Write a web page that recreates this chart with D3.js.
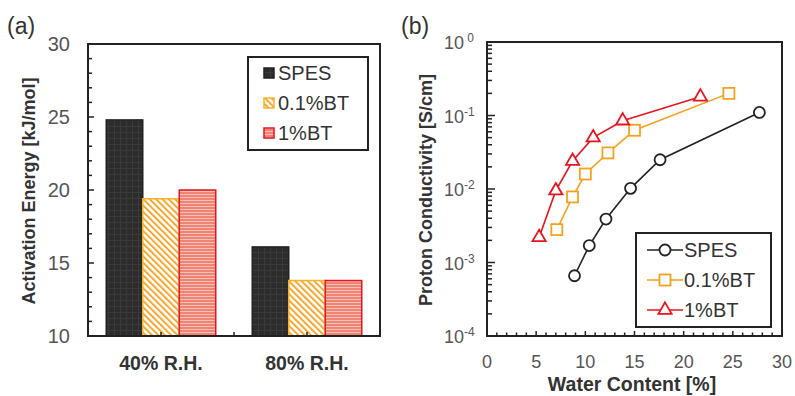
<!DOCTYPE html>
<html>
<head>
<meta charset="utf-8">
<script src="https://cdn.jsdelivr.net/npm/d3@7"></script>
<style>
  body { margin: 0; background: #fff; }
  svg { display: block; font-family: "Liberation Sans", Arial, sans-serif; }
</style>
</head>
<body>
<svg id="chart" width="795" height="396"></svg>
<script>
// panel (a) data
const groups = ['40% R.H.', '80% R.H.'];
const seriesNames = ['SPES', '0.1%BT', '1%BT'];
const energySPES = [24.8, 16.1];
const energyBT01 = [19.4, 13.8];
const energyBT1 = [20.0, 13.8];
const energyTicks = [10, 15, 20, 25, 30];

// panel (b) data
const waterSPES = [8.9, 10.4, 12.1, 14.6, 17.6, 27.7];
const condSPES = [6.6e-4, 1.7e-3, 3.9e-3, 1.02e-2, 2.5e-2, 0.11];
const waterBT01 = [7.1, 8.7, 10.0, 12.3, 15.0, 24.6];
const condBT01 = [2.8e-3, 7.8e-3, 1.6e-2, 3.1e-2, 6.3e-2, 0.2];
const waterBT1 = [5.3, 7.0, 8.7, 10.8, 13.8, 21.7];
const condBT1 = [2.2e-3, 9.5e-3, 2.4e-2, 5.0e-2, 8.5e-2, 0.18];
const waterTicks = [0, 5, 10, 15, 20, 25, 30];
const condTicks = [-4, -3, -2, -1, 0];

const dark = '#222';
const orange = '#f5a21e';
const red = '#e8141e';

const svg = d3.select('#chart');
const defs = svg.append('defs');

// bar fill patterns
const pSpes = defs.append('pattern').attr('id', 'pSpes')
    .attr('patternUnits', 'userSpaceOnUse').attr('width', 6).attr('height', 6);
pSpes.append('rect').attr('width', 6).attr('height', 6).attr('fill', '#2c2c2c');
pSpes.append('path').attr('d', 'M0,0.5H6M0.5,0V6').attr('stroke', '#3a3a3a').attr('stroke-width', 1);

const pBt01 = defs.append('pattern').attr('id', 'pBt01')
    .attr('patternUnits', 'userSpaceOnUse').attr('width', 4.5).attr('height', 4.5)
    .attr('patternTransform', 'rotate(-45)');
pBt01.append('rect').attr('width', 4.5).attr('height', 4.5).attr('fill', '#fff');
pBt01.append('rect').attr('width', 2).attr('height', 4.5).attr('fill', '#f5a830');

const pBt1 = defs.append('pattern').attr('id', 'pBt1')
    .attr('patternUnits', 'userSpaceOnUse').attr('width', 4).attr('height', 3);
pBt1.append('rect').attr('width', 4).attr('height', 3).attr('fill', '#ef8474');
pBt1.append('rect').attr('y', 2).attr('width', 4).attr('height', 1).attr('fill', '#f8c0b6');

const barStyles = [
    { fill: 'url(#pSpes)', stroke: dark, values: energySPES },
    { fill: 'url(#pBt01)', stroke: '#f6b428', values: energyBT01 },
    { fill: 'url(#pBt1)', stroke: red, values: energyBT1 }
];

// ---------- panel (a) ----------
const a = { left: 88, top: 44, right: 380, bottom: 336 };
const xGroup = d3.scaleBand().domain(groups).range([a.left, a.right]);
const xInner = d3.scaleBand().domain(seriesNames).range([0, xGroup.bandwidth()]).paddingOuter(0.5);
const yE = d3.scaleLinear().domain([10, 30]).range([a.bottom, a.top]);

const gA = svg.append('g');

groups.forEach((grp, gi) => {
    seriesNames.forEach((s, si) => {
        const v = barStyles[si].values[gi];
        gA.append('rect')
            .attr('x', xGroup(grp) + xInner(s))
            .attr('y', yE(v))
            .attr('width', xInner.bandwidth())
            .attr('height', yE(10) - yE(v))
            .attr('fill', barStyles[si].fill)
            .attr('stroke', barStyles[si].stroke)
            .attr('stroke-width', 1.5);
    });
});

// y axis ticks (inward)
gA.append('g')
    .selectAll('line')
    .data(d3.range(10, 31, 1))
    .join('line')
    .attr('x1', a.left).attr('x2', (d) => a.left + (d % 5 === 0 ? 6 : 4))
    .attr('y1', (d) => yE(d)).attr('y2', (d) => yE(d))
    .attr('stroke', dark).attr('stroke-width', 1.5);

gA.append('g')
    .selectAll('text')
    .data(energyTicks)
    .join('text')
    .attr('x', 70).attr('y', (d) => yE(d) + 7)
    .attr('text-anchor', 'end')
    .attr('font-size', 20).attr('fill', '#555')
    .text((d) => d);

// x axis small ticks at group centres and boundary
const xTickPos = groups.map((g) => xGroup(g) + xGroup.bandwidth() / 2).concat([xGroup(groups[1])]);
gA.append('g')
    .selectAll('line')
    .data(xTickPos)
    .join('line')
    .attr('x1', (d) => d).attr('x2', (d) => d)
    .attr('y1', a.bottom).attr('y2', a.bottom - 4)
    .attr('stroke', dark).attr('stroke-width', 1.5);

gA.append('g')
    .selectAll('text')
    .data(groups)
    .join('text')
    .attr('x', (d) => xGroup(d) + xGroup.bandwidth() / 2)
    .attr('y', 370)
    .attr('text-anchor', 'middle')
    .attr('font-size', 19.5).attr('font-weight', 'bold').attr('fill', '#333')
    .text((d) => d);

gA.append('rect')
    .attr('x', a.left).attr('y', a.top)
    .attr('width', a.right - a.left).attr('height', a.bottom - a.top)
    .attr('fill', 'none').attr('stroke', dark).attr('stroke-width', 2);

gA.append('text')
    .attr('transform', `translate(35,191) rotate(-90)`)
    .attr('text-anchor', 'middle')
    .attr('font-size', 18).attr('font-weight', 'bold').attr('fill', '#333')
    .text('Activation Energy [kJ/mol]');

gA.append('text')
    .attr('x', 7).attr('y', 34)
    .attr('font-size', 23).attr('fill', '#333')
    .text('(a)');

// legend (a)
const legA = gA.append('g');
legA.append('rect')
    .attr('x', 248).attr('y', 57).attr('width', 120).attr('height', 93)
    .attr('fill', '#fff').attr('stroke', dark).attr('stroke-width', 2);
seriesNames.forEach((s, i) => {
    const cy = 73 + i * 30;
    legA.append('rect')
        .attr('x', 264).attr('y', cy - 5).attr('width', 10).attr('height', 10)
        .attr('fill', barStyles[i].fill).attr('stroke', barStyles[i].stroke).attr('stroke-width', 1.5);
    legA.append('text')
        .attr('x', 278).attr('y', cy + 7)
        .attr('font-size', 20).attr('fill', '#333')
        .text(s);
});

// ---------- panel (b) ----------
const b = { left: 487, top: 42, right: 782, bottom: 336 };
const xW = d3.scaleLinear().domain([0, 30]).range([b.left, b.right]);
const yC = d3.scaleLog().domain([1e-4, 1]).range([b.bottom, b.top]);

const gB = svg.append('g');

// y minor/major log ticks
const logTicks = [];
for (let e = -4; e < 0; e++) {
    for (let m = 1; m < 10; m++) logTicks.push({ v: m * Math.pow(10, e), major: m === 1 });
}
gB.append('g')
    .selectAll('line')
    .data(logTicks)
    .join('line')
    .attr('x1', b.left).attr('x2', (d) => b.left + (d.major ? 8 : 5))
    .attr('y1', (d) => yC(d.v)).attr('y2', (d) => yC(d.v))
    .attr('stroke', dark).attr('stroke-width', 1.5);

// x ticks
gB.append('g')
    .selectAll('line')
    .data(d3.range(0, 31, 1))
    .join('line')
    .attr('x1', (d) => xW(d)).attr('x2', (d) => xW(d))
    .attr('y1', b.bottom).attr('y2', (d) => b.bottom - (d % 5 === 0 ? 5 : 3.5))
    .attr('stroke', dark).attr('stroke-width', 1.5);

gB.append('g')
    .selectAll('text')
    .data(waterTicks)
    .join('text')
    .attr('x', (d) => xW(d)).attr('y', 368)
    .attr('text-anchor', 'middle')
    .attr('font-size', 18).attr('fill', '#555')
    .text((d) => d);

const yLab = gB.append('g')
    .selectAll('text')
    .data(condTicks)
    .join('text')
    .attr('x', 444).attr('y', (d) => yC(Math.pow(10, d)) + 7)
    .attr('font-size', 18).attr('fill', '#555');
yLab.append('tspan').text('10');
yLab.append('tspan').attr('dy', -7).attr('font-size', 12).text((d) => (d === 0 ? ' 0' : d));

// series lines and markers
const seriesB = [
    { x: waterSPES, y: condSPES, color: dark, shape: 'circle' },
    { x: waterBT01, y: condBT01, color: orange, shape: 'square' },
    { x: waterBT1, y: condBT1, color: red, shape: 'triangle' }
];
const line = d3.line().x((d) => xW(d[0])).y((d) => yC(d[1]));

function drawMarker(g, shape, color, cx, cy) {
    if (shape === 'circle') {
        g.append('circle').attr('cx', cx).attr('cy', cy).attr('r', 5.5)
            .attr('fill', '#fff').attr('stroke', color).attr('stroke-width', 1.8);
    } else if (shape === 'square') {
        g.append('rect').attr('x', cx - 5.5).attr('y', cy - 5.5).attr('width', 11).attr('height', 11)
            .attr('fill', '#fff').attr('stroke', color).attr('stroke-width', 1.8);
    } else {
        g.append('path').attr('transform', `translate(${cx},${cy})`)
            .attr('d', d3.symbol(d3.symbolTriangle, 75)())
            .attr('fill', '#fff').attr('stroke', color).attr('stroke-width', 1.8);
    }
}

seriesB.forEach((s) => {
    const pts = s.x.map((x, i) => [x, s.y[i]]);
    gB.append('path').datum(pts)
        .attr('d', line)
        .attr('fill', 'none').attr('stroke', s.color).attr('stroke-width', 1.6);
    pts.forEach((p) => drawMarker(gB, s.shape, s.color, xW(p[0]), yC(p[1])));
});

gB.append('rect')
    .attr('x', b.left).attr('y', b.top)
    .attr('width', b.right - b.left).attr('height', b.bottom - b.top)
    .attr('fill', 'none').attr('stroke', dark).attr('stroke-width', 2);

gB.append('text')
    .attr('x', 632).attr('y', 391)
    .attr('text-anchor', 'middle')
    .attr('font-size', 19.5).attr('font-weight', 'bold').attr('fill', '#333')
    .text('Water Content [%]');

gB.append('text')
    .attr('transform', `translate(432,190) rotate(-90)`)
    .attr('text-anchor', 'middle')
    .attr('font-size', 18).attr('font-weight', 'bold').attr('fill', '#333')
    .text('Proton Conductivity [S/cm]');

gB.append('text')
    .attr('x', 401).attr('y', 34)
    .attr('font-size', 23).attr('fill', '#333')
    .text('(b)');

// legend (b)
const legB = gB.append('g');
legB.append('rect')
    .attr('x', 636).attr('y', 233).attr('width', 135).attr('height', 94)
    .attr('fill', '#fff').attr('stroke', dark).attr('stroke-width', 2);
seriesB.forEach((s, i) => {
    const cy = 250 + i * 30;
    legB.append('line')
        .attr('x1', 647).attr('x2', 683).attr('y1', cy).attr('y2', cy)
        .attr('stroke', s.color).attr('stroke-width', 1.6);
    drawMarker(legB, s.shape, s.color, 665, cy);
    legB.append('text')
        .attr('x', 684).attr('y', cy + 7)
        .attr('font-size', 20).attr('fill', '#333')
        .text(seriesNames[i]);
});
</script>
</body>
</html>
